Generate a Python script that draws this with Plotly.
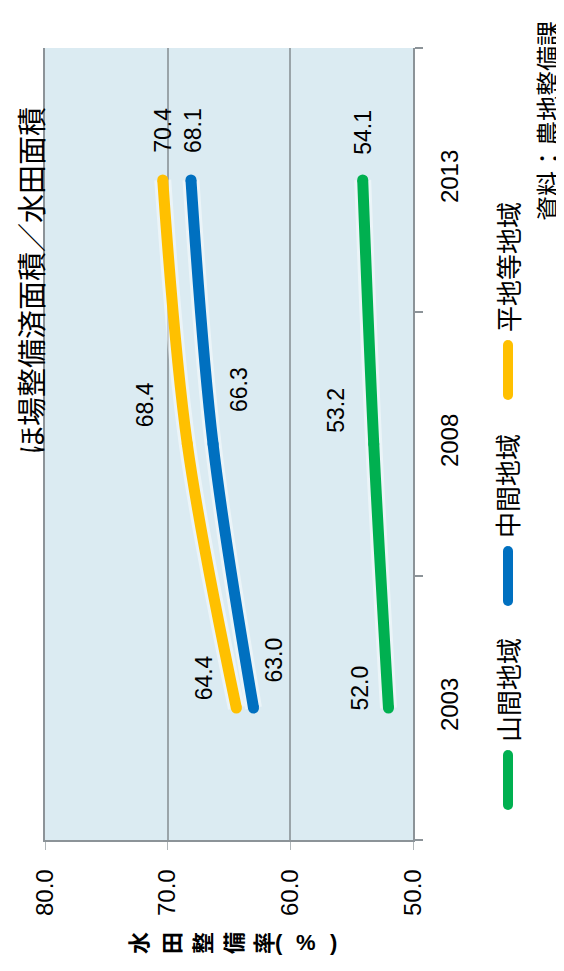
import plotly.graph_objects as go

# ---- data ----
years = ["2003", "2008", "2013"]
series_names = ["平地等地域", "中間地域", "山間地域"]
flat_area = [64.4, 68.4, 70.4]      # 平地等地域
middle_area = [63.0, 66.3, 68.1]    # 中間地域
mountain_area = [52.0, 53.2, 54.1]  # 山間地域
value_ticks = [80, 70, 60, 50]
value_tick_labels = ["80.0", "70.0", "60.0", "50.0"]
title_text = "ほ場整備済面積／水田面積"
source_text = "資料：農地整備課"
axis_title_chars = ["水", "田", "整", "備", "率"]
axis_title_tail = ["(", "%", ")"]

# ---- styles ----
colors = ["#FFC000", "#0070C0", "#00B050"]
all_series = [flat_area, middle_area, mountain_area]
# label offsets (pixels) per series, per year
label_shift = [
    [(-32, 30), (-42, 39), (0, 50)],
    [(20, 48), (26, 54), (2, 50)],
    [(-28, 20), (-38, 34), (0, 48)],
]

PAGE_OFF = 8                      # default body margin of the html page
SW, SH = 564, 971                 # screen size
W, H = SW - PAGE_OFF, SH - PAGE_OFF
L, R, T, B = 45, 413, 48, 840     # plot area in screen pixels
FONT = "Liberation Sans, Noto Sans CJK JP, sans-serif"
CJK = "Noto Sans CJK JP, sans-serif"


def px_x(px):
    return (px - L) / (R - L)


def px_y(py):
    return (B - py) / (B - T)


ypos = list(range(len(years)))

fig = go.Figure()
for vals, col, name in zip(all_series, colors, series_names):
    # faint halo
    fig.add_trace(go.Scatter(
        x=vals, y=ypos, mode="lines",
        line=dict(color="rgba(255,255,255,0.45)", width=17, shape="spline", smoothing=1),
        hoverinfo="skip", showlegend=False))
    fig.add_trace(go.Scatter(
        x=vals, y=ypos, mode="lines+markers", name=name,
        line=dict(color=col, width=11, shape="spline", smoothing=1),
        marker=dict(color=col, size=11, line=dict(width=0)),
        showlegend=False))

annotations = []
# data labels
for s, vals in enumerate(all_series):
    for i, v in enumerate(vals):
        dx, dy = label_shift[s][i]
        annotations.append(dict(
            x=v, y=ypos[i], xref="x", yref="y", text=f"{v:.1f}",
            showarrow=False, textangle=-90, xshift=dx, yshift=dy,
            font=dict(family=FONT, size=23, color="#000000")))

# title
annotations.append(dict(x=px_x(30), y=px_y(281), xref="paper", yref="paper",
                        text=title_text, showarrow=False, textangle=-90,
                        xanchor="center", yanchor="middle",
                        font=dict(family=CJK, size=29, color="#000000")))
# source
annotations.append(dict(x=px_x(547), y=px_y(121), xref="paper", yref="paper",
                        text=source_text, showarrow=False, textangle=-90,
                        xanchor="center", yanchor="middle",
                        font=dict(family=CJK, size=25, color="#000000")))

# axis title (rotated characters)
char_x = [137, 170, 201, 232, 262]
for ch, cx in zip(axis_title_chars, char_x):
    annotations.append(dict(x=px_x(cx), y=px_y(943), xref="paper", yref="paper",
                            text=f"<b>{ch}</b>", showarrow=False, textangle=-90,
                            xanchor="center", yanchor="middle",
                            font=dict(family=CJK, size=22, color="#000000")))
tail_x = [279, 306, 333]
for ch, cx in zip(axis_title_tail, tail_x):
    annotations.append(dict(x=px_x(cx), y=px_y(943), xref="paper", yref="paper",
                            text=f"<b>{ch}</b>", showarrow=False,
                            xanchor="center", yanchor="middle",
                            font=dict(family=FONT, size=22, color="#000000")))

# legend (manual, rotated)
legend_text_y = [267, 486, 690]
legend_swatch_y = [370, 576, 780]
legend_x = 507
shapes = []
for name, col, ty, sy in zip(series_names, colors, legend_text_y, legend_swatch_y):
    annotations.append(dict(x=px_x(legend_x), y=px_y(ty), xref="paper", yref="paper",
                            text=name, showarrow=False, textangle=-90,
                            xanchor="center", yanchor="middle",
                            font=dict(family=CJK, size=26, color="#000000")))
    shapes.append(dict(type="rect", xref="paper", yref="paper",
                       xsizemode="pixel", ysizemode="pixel",
                       xanchor=px_x(legend_x + 1), yanchor=px_y(sy),
                       x0=-5, x1=5, y0=-25, y1=25,
                       fillcolor=col, line=dict(width=0)))
    for e in (-25, 25):
        shapes.append(dict(type="circle", xref="paper", yref="paper",
                           xsizemode="pixel", ysizemode="pixel",
                           xanchor=px_x(legend_x + 1), yanchor=px_y(sy),
                           x0=-5, x1=5, y0=e - 5, y1=e + 5,
                           fillcolor=col, line=dict(width=0)))

fig.update_layout(
    width=W, height=H,
    margin=dict(l=L - PAGE_OFF, r=SW - R, t=T - PAGE_OFF, b=SH - B, pad=0,
                autoexpand=False),
    paper_bgcolor="#ffffff",
    plot_bgcolor="#dbebf2",
    showlegend=False,
    annotations=annotations,
    shapes=shapes,
    font=dict(family=FONT, size=23, color="#000000"),
    xaxis=dict(
        range=[80, 50], tickvals=value_ticks, ticktext=value_tick_labels,
        tickangle=-90, showgrid=True, gridcolor="#9aa4a9", gridwidth=1.5,
        showline=True, linecolor="#8c9398", linewidth=1.5,
        ticks="outside", ticklen=8, tickcolor="#b0b6b9", tickwidth=1,
        ticklabelstandoff=10, zeroline=False, automargin=False,
        tickfont=dict(family=FONT, size=24, color="#000000"),
    ),
    yaxis=dict(
        range=[-0.5, 2.5], tickvals=ypos, ticktext=years, side="right",
        tickangle=-90, showgrid=False, zeroline=False, automargin=False,
        showline=True, linecolor="#8c9398", linewidth=1.5, mirror=True,
        ticks="", ticklabelstandoff=14,
        minor=dict(tickmode="array", tickvals=[-0.5, 0.5, 1.5, 2.5],
                   ticks="outside", ticklen=8, tickcolor="#8c9398", tickwidth=1.5),
        tickfont=dict(family=FONT, size=24, color="#000000"),
    ),
)

fig.write_html("out.html")
